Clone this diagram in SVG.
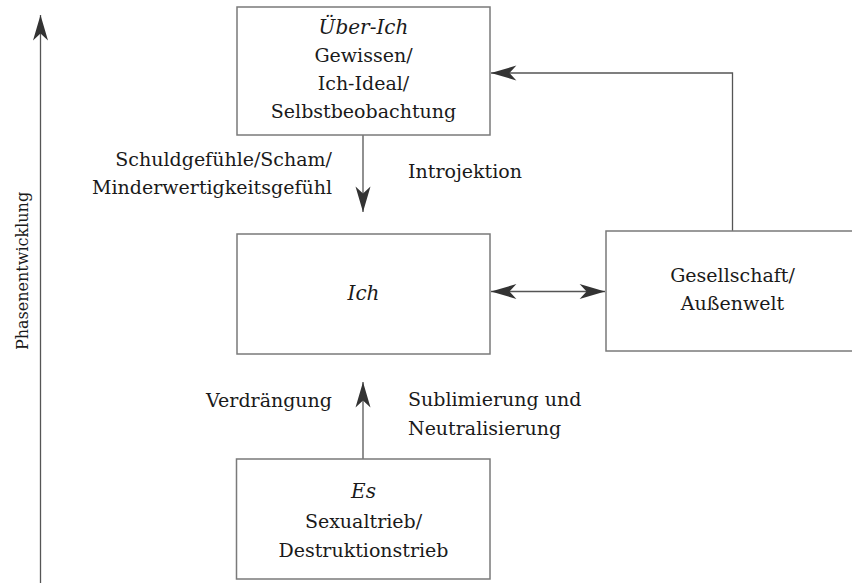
<svg xmlns="http://www.w3.org/2000/svg" width="852" height="583" viewBox="0 0 852 583">
<defs>
<style>
.box{fill:#fff;stroke:#7a7a7a;stroke-width:1.5}
.con{fill:none;stroke:#555;stroke-width:1.3}
.t{font-family:'DejaVu Serif',serif;font-size:19px;fill:#1a1a1a}
.c{text-anchor:middle}
.e{text-anchor:end}
.i{font-style:italic;font-size:20px}
</style>
<marker id="ah" markerUnits="userSpaceOnUse" markerWidth="30" markerHeight="20" viewBox="-24 -8 26 16" refX="0" refY="0" orient="auto-start-reverse">
<path d="M0,0 L-22,-6.5 L-16,0 L-22,6.5 Z" fill="#333"/>
</marker>
</defs>
<g id="connectors">
<line class="con" x1="40.5" y1="583" x2="40.5" y2="15" marker-end="url(#ah)"/>
<line class="con" x1="363" y1="135" x2="363" y2="212" marker-end="url(#ah)"/>
<line class="con" x1="363" y1="459" x2="363" y2="382" marker-end="url(#ah)"/>
<line class="con" x1="491" y1="291.5" x2="605" y2="291.5" marker-start="url(#ah)" marker-end="url(#ah)"/>
<polyline class="con" points="732.5,231 732.5,73 491,73" marker-end="url(#ah)"/>
</g>
<g id="axis-label">
<text class="t c" style="font-size:16px" transform="translate(28,271) rotate(-90)">Phasenentwicklung</text>
</g>
<g id="ueber-ich">
<rect class="box" x="237" y="7" width="253" height="128"/>
<text class="t c i" x="363.5" y="34">Über-Ich</text>
<text class="t c" x="363.5" y="62">Gewissen/</text>
<text class="t c" x="363.5" y="90">Ich-Ideal/</text>
<text class="t c" x="363.5" y="118">Selbstbeobachtung</text>
</g>
<g id="ich">
<rect class="box" x="237" y="234" width="253" height="120"/>
<text class="t c i" x="363.5" y="300">Ich</text>
</g>
<g id="gesellschaft">
<rect class="box" x="606" y="231" width="253" height="120"/>
<text class="t c" x="732.5" y="282">Gesellschaft/</text>
<text class="t c" x="732.5" y="310">Außenwelt</text>
</g>
<g id="es">
<rect class="box" x="236.5" y="459" width="253.5" height="120"/>
<text class="t c i" x="363.5" y="498">Es</text>
<text class="t c" x="363.5" y="528">Sexualtrieb/</text>
<text class="t c" x="363.5" y="557">Destruktionstrieb</text>
</g>
<g id="labels">
<text class="t e" x="332" y="166">Schuldgefühle/Scham/</text>
<text class="t e" x="332" y="194">Minderwertigkeitsgefühl</text>
<text class="t" x="408" y="178">Introjektion</text>
<text class="t e" x="332" y="407">Verdrängung</text>
<text class="t" x="408" y="406">Sublimierung und</text>
<text class="t" x="408" y="435">Neutralisierung</text>
</g>
</svg>
